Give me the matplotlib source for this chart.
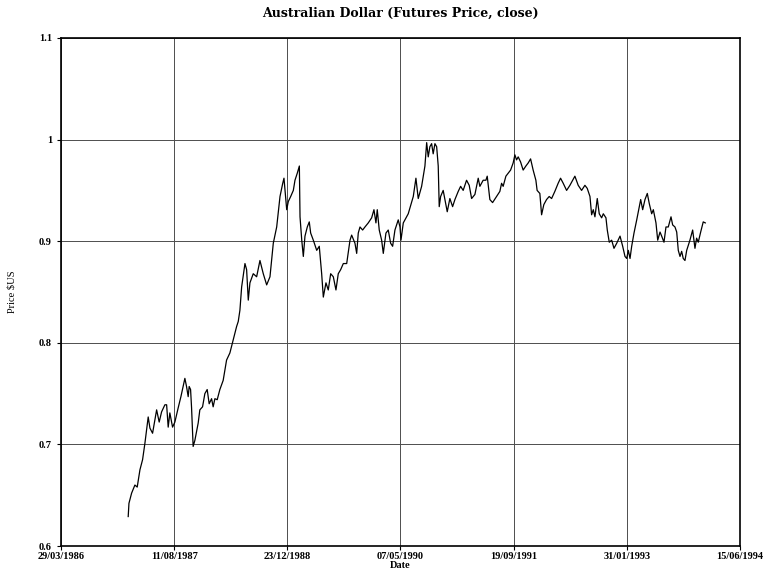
import matplotlib
matplotlib.use("Agg")
import matplotlib.pyplot as plt
import matplotlib.dates as mdates
import numpy as np
from datetime import datetime, timedelta

# decimal year, price
years = [
    1987.052, 1987.061, 1987.093, 1987.133, 1987.161, 1987.194, 1987.226, 1987.254,
    1987.294, 1987.315, 1987.347, 1987.375, 1987.396, 1987.427, 1987.456, 1987.496,
    1987.517, 1987.536, 1987.556, 1987.589, 1987.617, 1987.657, 1987.690, 1987.738,
    1987.758, 1987.778, 1987.790, 1987.807, 1987.819, 1987.838, 1987.859, 1987.899,
    1987.919, 1987.952, 1987.980, 1988.008, 1988.032, 1988.061, 1988.080, 1988.101,
    1988.129, 1988.161, 1988.201, 1988.222, 1988.242, 1988.282, 1988.322, 1988.363,
    1988.383, 1988.403, 1988.424, 1988.464, 1988.484, 1988.504, 1988.524, 1988.564,
    1988.605, 1988.645, 1988.685, 1988.726, 1988.766, 1988.806, 1988.847, 1988.887,
    1988.920, 1988.935, 1988.968, 1988.987, 1989.016, 1989.048, 1989.068, 1989.096,
    1989.121, 1989.129, 1989.150, 1989.169, 1989.189, 1989.217, 1989.241, 1989.258,
    1989.290, 1989.331, 1989.362, 1989.391, 1989.411, 1989.443, 1989.471, 1989.500,
    1989.532, 1989.564, 1989.592, 1989.621, 1989.653, 1989.694, 1989.734, 1989.754,
    1989.794, 1989.815, 1989.834, 1989.855, 1989.887, 1989.915, 1989.955, 1989.996,
    1990.024, 1990.048, 1990.064, 1990.088, 1990.117, 1990.137, 1990.169, 1990.197,
    1990.226, 1990.250, 1990.278, 1990.318, 1990.339, 1990.351, 1990.379, 1990.439,
    1990.500, 1990.532, 1990.560, 1990.601, 1990.641, 1990.662, 1990.681, 1990.701,
    1990.722, 1990.741, 1990.762, 1990.783, 1990.802, 1990.814, 1990.831, 1990.862,
    1990.883, 1990.911, 1990.943, 1990.976, 1991.004, 1991.044, 1991.073, 1991.104,
    1991.145, 1991.177, 1991.206, 1991.246, 1991.286, 1991.306, 1991.346, 1991.379,
    1991.395, 1991.427, 1991.460, 1991.508, 1991.548, 1991.569, 1991.588, 1991.621,
    1991.649, 1991.678, 1991.709, 1991.730, 1991.750, 1991.770, 1991.799, 1991.830,
    1991.863, 1991.891, 1991.920, 1991.951, 1991.984, 1991.999, 1992.032, 1992.053,
    1992.080, 1992.113, 1992.145, 1992.174, 1992.213, 1992.253, 1992.282, 1992.314,
    1992.355, 1992.395, 1992.455, 1992.495, 1992.536, 1992.576, 1992.604, 1992.637,
    1992.657, 1992.677, 1992.697, 1992.725, 1992.749, 1992.778, 1992.798, 1992.830,
    1992.846, 1992.870, 1992.899, 1992.927, 1992.960, 1993.000, 1993.032, 1993.060,
    1993.081, 1993.100, 1993.121, 1993.141, 1993.169, 1993.202, 1993.233, 1993.250,
    1993.274, 1993.302, 1993.330, 1993.354, 1993.383, 1993.403, 1993.435, 1993.456,
    1993.484, 1993.504, 1993.532, 1993.556, 1993.584, 1993.617, 1993.637, 1993.665,
    1993.686, 1993.705, 1993.726, 1993.746, 1993.765, 1993.786, 1993.807, 1993.846,
    1993.879, 1993.907, 1993.927, 1993.947, 1993.976, 1994.007, 1994.032,
]
price = [
    0.629, 0.642, 0.652, 0.660, 0.658, 0.675, 0.685, 0.701,
    0.727, 0.716, 0.711, 0.724, 0.734, 0.722, 0.732, 0.739,
    0.739, 0.717, 0.731, 0.717, 0.722, 0.736, 0.747, 0.765,
    0.757, 0.747, 0.757, 0.754, 0.736, 0.698, 0.704, 0.721,
    0.734, 0.737, 0.750, 0.754, 0.740, 0.745, 0.737, 0.745,
    0.744, 0.754, 0.763, 0.773, 0.783, 0.790, 0.803, 0.816,
    0.821, 0.832, 0.855, 0.878, 0.872, 0.842, 0.859, 0.868,
    0.865, 0.881, 0.868, 0.857, 0.865, 0.898, 0.914, 0.944,
    0.957, 0.962, 0.931, 0.939, 0.944, 0.950, 0.960, 0.967,
    0.974, 0.924, 0.901, 0.885, 0.905, 0.914, 0.919, 0.908,
    0.901, 0.891, 0.895, 0.868, 0.845, 0.859, 0.852, 0.868,
    0.865, 0.852, 0.868, 0.872, 0.878, 0.878, 0.901, 0.906,
    0.898, 0.888, 0.908, 0.914, 0.911, 0.914, 0.918, 0.923,
    0.931, 0.918, 0.931, 0.911, 0.901, 0.888, 0.908, 0.911,
    0.898, 0.895, 0.911, 0.921, 0.914, 0.901, 0.918, 0.927,
    0.944, 0.962, 0.942, 0.954, 0.974, 0.997, 0.983, 0.993,
    0.996, 0.986, 0.996, 0.993, 0.974, 0.934, 0.944, 0.950,
    0.941, 0.929, 0.942, 0.934, 0.941, 0.949, 0.954, 0.950,
    0.960, 0.955, 0.942, 0.946, 0.962, 0.954, 0.960, 0.960,
    0.964, 0.941, 0.938, 0.944, 0.949, 0.957, 0.954, 0.964,
    0.967, 0.970, 0.977, 0.985, 0.980, 0.983, 0.978, 0.970,
    0.974, 0.977, 0.981, 0.970, 0.960, 0.950, 0.947, 0.926,
    0.936, 0.941, 0.944, 0.942, 0.949, 0.957, 0.962, 0.957,
    0.950, 0.955, 0.964, 0.955, 0.950, 0.955, 0.952, 0.944,
    0.926, 0.931, 0.924, 0.942, 0.927, 0.923, 0.927, 0.923,
    0.911, 0.899, 0.901, 0.893, 0.898, 0.905, 0.895, 0.885,
    0.883, 0.891, 0.883, 0.895, 0.908, 0.921, 0.934, 0.941,
    0.931, 0.941, 0.947, 0.937, 0.927, 0.931, 0.918, 0.901,
    0.909, 0.905, 0.899, 0.914, 0.914, 0.924, 0.916, 0.914,
    0.909, 0.891, 0.885, 0.890, 0.883, 0.881, 0.891, 0.901,
    0.911, 0.893, 0.903, 0.899, 0.909, 0.919, 0.918,
]

tick_start = datetime(1986, 3, 29)
tick_step_days = 500
n_ticks = 7
y_ticks = [0.6, 0.7, 0.8, 0.9, 1.0, 1.1]
y_tick_labels = ["0.6", "0.7", "0.8", "0.9", "1", "1.1"]


def year_to_date(y):
    yr = int(y)
    start = datetime(yr, 1, 1)
    length = (datetime(yr + 1, 1, 1) - start).days
    return start + timedelta(days=(y - yr) * length)


dates = [year_to_date(y) for y in years]
xticks = [tick_start + timedelta(days=tick_step_days * k) for k in range(n_ticks)]

plt.rcParams['font.family'] = ['Liberation Serif', 'DejaVu Serif']

fig = plt.figure(figsize=(7.73, 5.73), dpi=100)
ax = fig.add_axes([0.0789, 0.0471, 0.8784, 0.8866])

ax.plot(dates, price, color='black', lw=0.9)

ax.set_xlim(xticks[0], xticks[-1])
ax.set_ylim(0.6, 1.1)
ax.set_xticks(xticks)
ax.xaxis.set_major_formatter(mdates.DateFormatter('%d/%m/%Y'))
ax.set_yticks(y_ticks)
ax.set_yticklabels(y_tick_labels)

ax.grid(True, color='0.3', lw=0.7)
ax.tick_params(labelsize=7.5, length=3, width=0.8, direction='out')
ax.tick_params(axis='x', pad=1.5)
for lab in ax.get_xticklabels() + ax.get_yticklabels():
    lab.set_fontweight('bold')
for s in ax.spines.values():
    s.set_linewidth(1.2)

ax.set_title("Australian Dollar (Futures Price, close)", fontsize=9,
             fontweight='bold', family=['DejaVu Serif'], pad=15)
ax.set_xlabel("Date", fontsize=7.5, fontweight='bold', labelpad=0)
ax.set_ylabel("Price \\$US", fontsize=7.5, labelpad=16)

fig.savefig("out.png", dpi=100)
